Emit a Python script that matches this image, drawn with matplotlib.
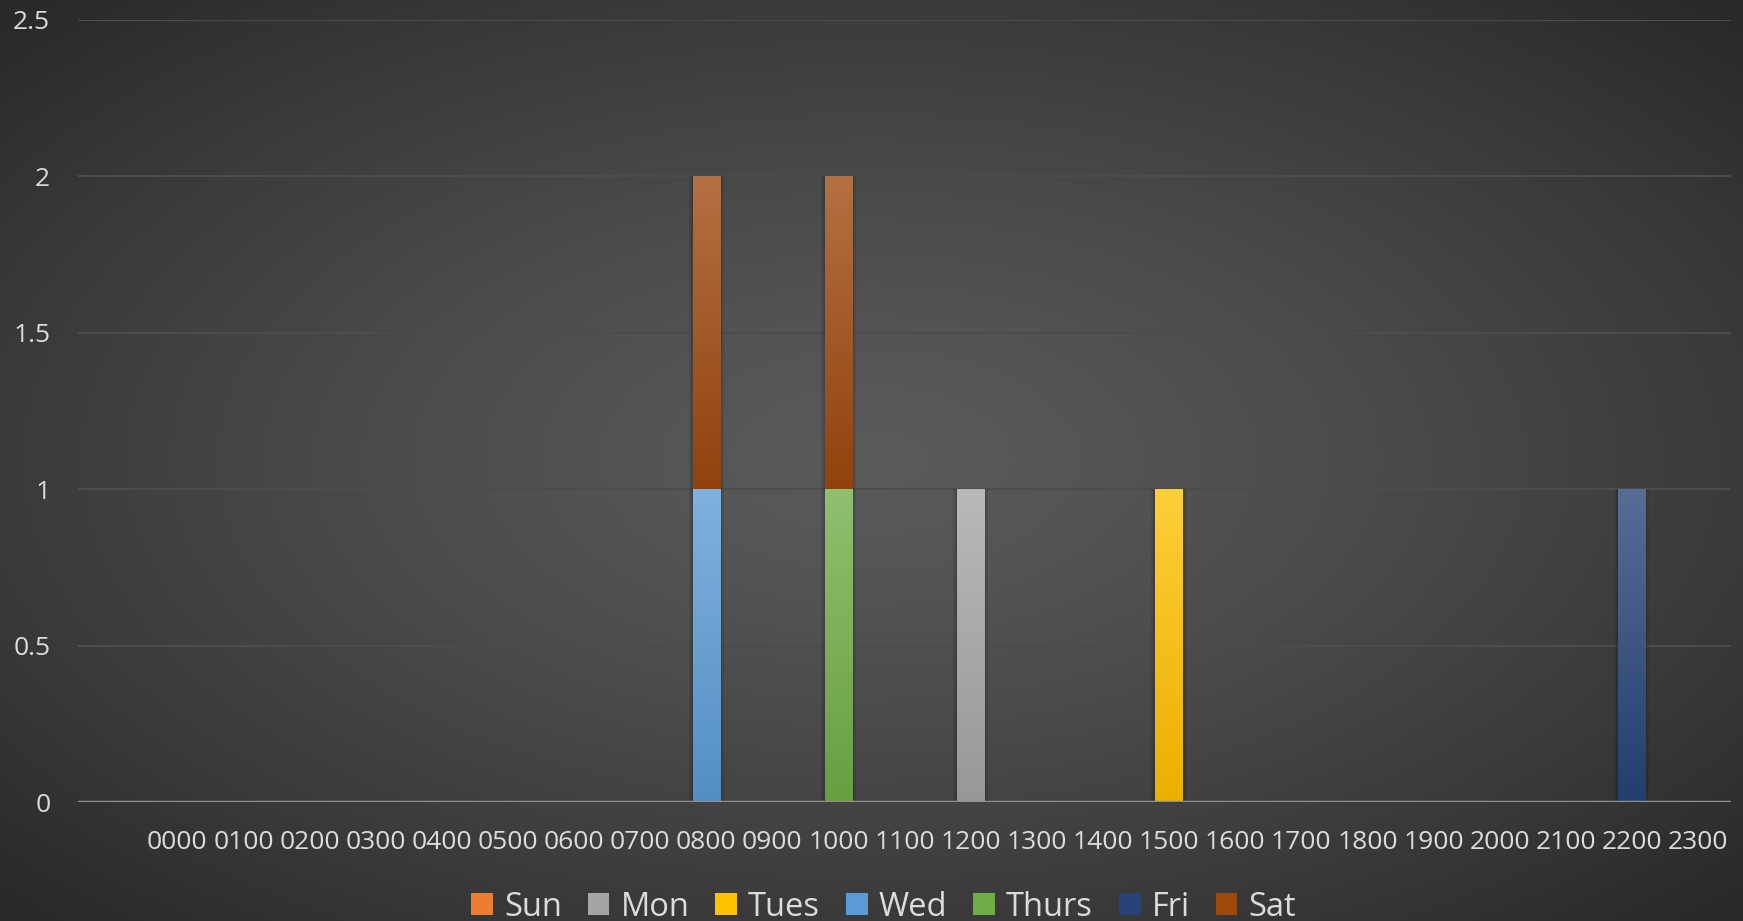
import matplotlib
matplotlib.use("Agg")
import matplotlib.pyplot as plt
import numpy as np
from matplotlib.colors import to_rgb

plt.rcParams["font.family"] = ["Open Sans", "DejaVu Sans"]

# ── 数据 ──
hours = [""] + [f"{h:02d}00" for h in range(24)]
days = ["Sun", "Mon", "Tues", "Wed", "Thurs", "Fri", "Sat"]

sun = [0] * 25
mon = [0] * 25
tues = [0] * 25
wed = [0] * 25
thurs = [0] * 25
fri = [0] * 25
sat = [0] * 25
mon[hours.index("1200")] = 1
tues[hours.index("1500")] = 1
wed[hours.index("0800")] = 1
thurs[hours.index("1000")] = 1
fri[hours.index("2200")] = 1
sat[hours.index("0800")] = 1
sat[hours.index("1000")] = 1
series = [sun, mon, tues, wed, thurs, fri, sat]

COLORS = ["#ED7D31", "#A5A5A5", "#FFC000", "#5B9BD5", "#70AD47", "#264478", "#9E480E"]
TEXT = "#DCDCDC"

fig = plt.figure(figsize=(17.43, 9.21), dpi=100)

# 背景径向渐变
bg = fig.add_axes([0, 0, 1, 1], zorder=-10)
gx, gy = np.meshgrid(np.linspace(-1, 1, 400), np.linspace(-1, 1, 220))
r = np.clip(np.sqrt(gx ** 2 + gy ** 2) / np.sqrt(2), 0, 1)
v = (0x5A - (0x5A - 0x28) * r ** 1.3) / 255.0
bg.imshow(np.dstack([v, v, v]), extent=(0, 1, 0, 1), aspect="auto", interpolation="bilinear")
bg.axis("off")

ax = fig.add_axes([0.0448, 0.1292, 0.9483, 0.8491])
ax.set_facecolor("none")
for s in ax.spines.values():
    s.set_visible(False)

x = np.arange(len(hours))
width = 0.41
bottom = np.zeros(len(hours))
handles = []
for name, vals, c in zip(days, series, COLORS):
    vals = np.array(vals, dtype=float)
    bars = ax.bar(x, vals, width, bottom=bottom, color=c, label=name, zorder=3, linewidth=0)
    handles.append(bars)
    base = np.array(to_rgb(c))
    top = base + (1 - base) * 0.22
    bot = base * 0.92
    grad = np.linspace(0, 1, 64)[:, None, None]
    img = top * (1 - grad) + bot * grad
    for rect in bars:
        h = rect.get_height()
        if h <= 0:
            continue
        x0, y0 = rect.get_x(), rect.get_y()
        # 阴影
        for k, a in [(0.12, 0.08), (0.06, 0.12)]:
            ax.bar(x0 + width / 2, h, width + k, bottom=y0, color="black", alpha=a,
                   zorder=2, linewidth=0)
        ax.imshow(img, extent=(x0, x0 + width, y0, y0 + h), aspect="auto",
                  zorder=4, interpolation="bilinear")
    bottom += vals

ax.set_xlim(-0.5, len(hours) - 0.5)
ax.set_ylim(0, 2.5)
ax.set_yticks(np.arange(0, 2.51, 0.5))
ax.set_yticklabels(["0", "0.5", "1", "1.5", "2", "2.5"])
ax.set_xticks(x)
ax.set_xticklabels(hours)
ax.tick_params(axis="both", length=0, colors=TEXT, labelsize=19)
ax.tick_params(axis="y", pad=20)
ax.tick_params(axis="x", pad=20)
ax.grid(axis="y", color="#4C4C4C", linewidth=1.5, zorder=1)
ax.set_axisbelow(True)
ax.axhline(0, color="#8F8F8F", linewidth=2.5, zorder=5)

leg = fig.legend(handles=handles, labels=days, loc="center", bbox_to_anchor=(0.507, 0.015),
                 ncol=7, frameon=False, fontsize=23.5, handlelength=0.66, handleheight=0.66,
                 handletextpad=0.34, columnspacing=0.8, labelcolor=TEXT)

fig.savefig("out.png", dpi=100)
